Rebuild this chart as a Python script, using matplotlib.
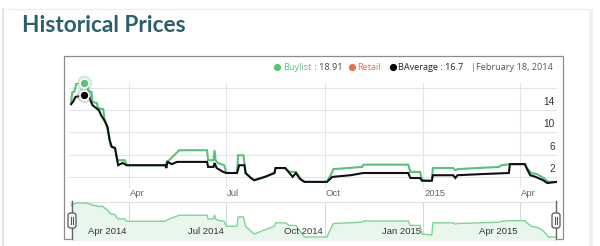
import matplotlib
matplotlib.use('Agg')
import matplotlib.pyplot as plt
import matplotlib.dates as mdates
import matplotlib.transforms as mtransforms
import pandas as pd
from matplotlib.patches import FancyBboxPatch, Rectangle

# ---------------- data ----------------
buylist_dates = ['2014-02-06', '2014-02-07', '2014-02-09', '2014-02-11', '2014-02-21', '2014-02-22',
                 '2014-02-25', '2014-02-26', '2014-03-02', '2014-03-03', '2014-03-08', '2014-03-09',
                 '2014-03-12', '2014-03-15', '2014-03-19', '2014-03-21', '2014-03-22', '2014-03-28',
                 '2014-03-30', '2014-05-05', '2014-05-06', '2014-05-18', '2014-06-13', '2014-06-14',
                 '2014-06-19', '2014-06-20', '2014-06-21', '2014-06-23', '2014-06-29', '2014-07-01',
                 '2014-07-11', '2014-07-12', '2014-07-17', '2014-07-19', '2014-07-24', '2014-07-27',
                 '2014-08-06', '2014-08-15', '2014-08-16', '2014-08-25', '2014-08-29', '2014-09-04',
                 '2014-09-08', '2014-09-12', '2014-10-03', '2014-10-08', '2014-10-09', '2014-11-05',
                 '2014-11-06', '2014-12-18', '2014-12-20', '2014-12-29', '2014-12-31', '2015-01-09',
                 '2015-01-10', '2015-01-29', '2015-01-31', '2015-02-02', '2015-03-13', '2015-03-15',
                 '2015-03-23', '2015-04-06', '2015-04-08', '2015-04-12', '2015-04-17', '2015-04-22',
                 '2015-04-26', '2015-04-28', '2015-05-06']
buylist_values = [15.3, 17.2, 17.4, 18.91, 18.91, 17.5,
                  17.3, 15.5, 15.3, 14.4, 14.2, 12.6,
                  10.6, 7.5, 7.2, 5.4, 5.0, 5.0,
                  4.1, 4.1, 4.5, 6.8, 6.8, 5.0,
                  5.0, 6.8, 5.0, 4.5, 4.1, 2.7,
                  2.7, 5.9, 5.9, 2.7, 1.8, 1.4,
                  2.0, 2.7, 3.6, 3.6, 2.9, 2.9,
                  1.8, 1.1, 1.1, 2.9, 3.4, 3.8,
                  4.2, 4.2, 2.9, 2.9, 1.4, 1.3,
                  3.6, 3.6, 3.2, 3.4, 3.8, 4.1,
                  4.3, 4.3, 3.6, 2.7, 2.5, 2.0,
                  1.4, 1.1, 1.1]

baverage_dates = ['2014-02-06', '2014-02-08', '2014-02-10', '2014-02-18', '2014-02-22', '2014-02-24',
                  '2014-02-26', '2014-03-04', '2014-03-06', '2014-03-09', '2014-03-12', '2014-03-14',
                  '2014-03-16', '2014-03-19', '2014-03-21', '2014-03-22', '2014-03-26', '2014-03-30',
                  '2014-05-05', '2014-05-06', '2014-05-07', '2014-05-11', '2014-05-16', '2014-06-13',
                  '2014-06-14', '2014-06-19', '2014-06-20', '2014-06-22', '2014-06-28', '2014-07-01',
                  '2014-07-11', '2014-07-13', '2014-07-18', '2014-07-19', '2014-07-24', '2014-07-27',
                  '2014-08-06', '2014-08-15', '2014-08-16', '2014-08-25', '2014-08-29', '2014-09-01',
                  '2014-09-04', '2014-09-08', '2014-09-12', '2014-10-03', '2014-10-08', '2014-10-25',
                  '2014-11-06', '2014-12-18', '2014-12-20', '2014-12-29', '2014-12-31', '2015-01-09',
                  '2015-01-10', '2015-01-29', '2015-01-31', '2015-02-02', '2015-02-24', '2015-03-22',
                  '2015-03-23', '2015-04-06', '2015-04-08', '2015-04-11', '2015-04-16', '2015-04-23',
                  '2015-04-27', '2015-05-06']
baverage_values = [15.1, 15.6, 16.4, 16.7, 17.1, 15.8,
                   14.9, 14.0, 13.1, 12.2, 11.0, 8.6,
                   7.4, 7.2, 5.0, 4.1, 4.5, 4.1,
                   4.1, 3.6, 4.7, 4.3, 4.7, 4.7,
                   3.8, 3.8, 4.5, 3.6, 2.9, 2.7,
                   2.7, 4.1, 4.1, 2.7, 1.8, 1.4,
                   2.0, 2.7, 3.6, 3.6, 2.7, 2.0,
                   2.7, 1.6, 1.1, 1.1, 2.0, 2.3,
                   2.7, 2.7, 1.8, 1.8, 1.3, 1.3,
                   2.3, 2.3, 1.8, 2.3, 2.5, 2.7,
                   4.3, 4.3, 3.4, 2.3, 2.0, 1.4,
                   0.9, 1.1]

y_ticks = [2, 6, 10, 14]
y_grid = [2, 6, 10, 14, 18]
x_tick_dates = ['2014-04-01', '2014-07-01', '2014-10-01', '2015-01-01', '2015-04-01']
x_tick_labels = ['Apr', 'Jul', 'Oct', '2015', 'Apr']
nav_tick_labels = ['Apr 2014', 'Jul 2014', 'Oct 2014', 'Jan 2015', 'Apr 2015']
tooltip_date = '2014-02-18'
tooltip_buylist = 18.91
tooltip_baverage = 16.7
x_start, x_end = '2014-02-04', '2015-05-06'

GREEN = '#58c27a'
BLACK = '#111111'
RETAIL = '#e8704f'

# ---------------- figure ----------------
W, H = 600, 246
fig = plt.figure(figsize=(6, 2.46), dpi=100)
fig.patch.set_facecolor('white')


def fr(x0, y0, x1, y1):
    return [x0 / W, 1 - y1 / H, (x1 - x0) / W, (y1 - y0) / H]


bg = fig.add_axes([0, 0, 1, 1], zorder=0)
bg.set_xlim(0, W)
bg.set_ylim(H, 0)
bg.axis('off')

# page card
bg.plot([3, 3], [9, H], color='#e2e2e2', lw=1.3)
bg.plot([3, 590], [9, 9], color='#efefef', lw=1)
bg.add_patch(Rectangle((589, 9), 4, H - 9, color='#efefef', lw=0))
# chart box
bg.add_patch(Rectangle((63.5, 55.5), 499, 183, fill=False, ec='#8c8c8c', lw=0.9))

bg.text(22, 26, 'Historical Prices', fontsize=16.3, fontweight='bold', family='Lato',
        color='#2b5f6c', ha='left', va='center')

# legend header
lf = dict(fontsize=6.6, family='Open Sans', va='center')
ly = 67
bg.plot(276.5, ly, 'o', ms=5.2, color=GREEN, mec='none')
bg.text(283, ly, 'Buylist', color=GREEN, **lf)
bg.text(312, ly, ' : 18.91', color='#444444', **lf)
bg.plot(352, ly, 'o', ms=5.2, color=RETAIL, mec='none')
bg.text(357, ly, 'Retail', color=RETAIL, **lf)
bg.plot(393, ly, 'o', ms=5.2, color='black', mec='none')
bg.text(398, ly, 'BAverage : 16.7', color='#222222', **lf)
bg.text(470.5, ly, '|', color='#c0394b', **lf)
bg.text(476.5, ly, 'February 18, 2014', color='#555555', **lf)

# ---------------- main chart ----------------
bd = pd.to_datetime(buylist_dates)
ad = pd.to_datetime(baverage_dates)
xs, xe = pd.Timestamp(x_start), pd.Timestamp(x_end)
tick_d = pd.to_datetime(x_tick_dates)

ax = fig.add_axes(fr(69, 83, 557, 188), zorder=1)
ax.set_facecolor('none')
for s in ax.spines.values():
    s.set_visible(False)
ax.set_xlim(xs, xe)
ax.set_ylim(0, tooltip_buylist)
ax.set_xticks([])
ax.set_yticks([])
for g in y_grid:
    ax.axhline(g, color='#e4e4ee', lw=0.8, zorder=0)
for d in tick_d:
    ax.axvline(d, color='#e4e4e4', lw=0.8, zorder=0)

ax.plot(bd, buylist_values, color=GREEN, lw=1.5, zorder=2, solid_joinstyle='miter')
ax.plot(ad, baverage_values, color=BLACK, lw=1.5, zorder=3, solid_joinstyle='miter')

td = pd.Timestamp(tooltip_date)
ax.plot(td, tooltip_buylist, 'o', ms=11, color=GREEN, alpha=0.3, mec='none', zorder=4, clip_on=False)
ax.plot(td, tooltip_buylist, 'o', ms=6.5, color=GREEN, mec='white', mew=1.2, zorder=5, clip_on=False)
ax.plot(td, tooltip_baverage, 'o', ms=11, color='#888888', alpha=0.3, mec='none', zorder=4, clip_on=False)
ax.plot(td, tooltip_baverage, 'o', ms=6.5, color='black', mec='white', mew=1.2, zorder=5, clip_on=False)

ytr = mtransforms.blended_transform_factory(ax.transAxes, ax.transData)
ytr = ytr + mtransforms.ScaledTranslation(-2 / 100, 3 / 100, fig.dpi_scale_trans)
for t in y_ticks:
    ax.text(1.0, t, str(t), transform=ytr, ha='right', va='bottom', fontsize=7.3,
            family='Liberation Sans', color='#333333')

xtr = mtransforms.blended_transform_factory(ax.transData, ax.transAxes)
xtr = xtr + mtransforms.ScaledTranslation(1 / 100, -5 / 100, fig.dpi_scale_trans)
for d, lab in zip(tick_d, x_tick_labels):
    ax.text(d, 0, lab, transform=xtr, ha='left', va='center', fontsize=6.8,
            family='Liberation Sans', color='#666666')

# ---------------- navigator ----------------
nav = fig.add_axes(fr(69, 202, 557, 239), zorder=1)
nav.set_facecolor('none')
for s in nav.spines.values():
    s.set_visible(False)
nav.set_yscale('log')
nav.set_xlim(xs, xe)
nav.set_ylim(0.93, 20.6)
nav.set_xticks([])
nav.set_yticks([])
nav.minorticks_off()
nav.yaxis.set_minor_locator(plt.NullLocator())
for d in tick_d:
    nav.axvline(d, color='#d8d8d8', lw=0.8, zorder=0)
nav.axhline(20.6, color='#e0e0e0', lw=0.8, zorder=0, clip_on=False)
nav.fill_between(bd, buylist_values, 0.5, color='#e8f6ec', lw=0, zorder=1)
nav.plot(bd, buylist_values, color='#7dd396', lw=1.0, zorder=2)

ntr = mtransforms.blended_transform_factory(nav.transData, nav.transAxes)
ntr = ntr + mtransforms.ScaledTranslation(-2 / 100, 0, fig.dpi_scale_trans)
for d, lab in zip(tick_d, nav_tick_labels):
    nav.text(d, 0.19, lab, transform=ntr, ha='right', va='center', fontsize=6.8,
             family='Liberation Sans', color='#333333')

# ---------------- handles (foreground) ----------------
fg = fig.add_axes([0, 0, 1, 1], zorder=5)
fg.set_xlim(0, W)
fg.set_ylim(H, 0)
fg.axis('off')
for hx in (72, 556):
    fg.plot([hx, hx], [201, 239], color='#666666', lw=1.0)
    fg.add_patch(FancyBboxPatch((hx - 3.5, 213.5), 7, 14, boxstyle='round,pad=0.5,rounding_size=2.5',
                                fc='white', ec='#555555', lw=0.9, zorder=6))
    fg.plot([hx - 1, hx - 1], [217, 224], color='#555555', lw=0.8, zorder=7)
    fg.plot([hx + 1, hx + 1], [217, 224], color='#555555', lw=0.8, zorder=7)

fig.savefig('out.png', dpi=100, facecolor='white')
